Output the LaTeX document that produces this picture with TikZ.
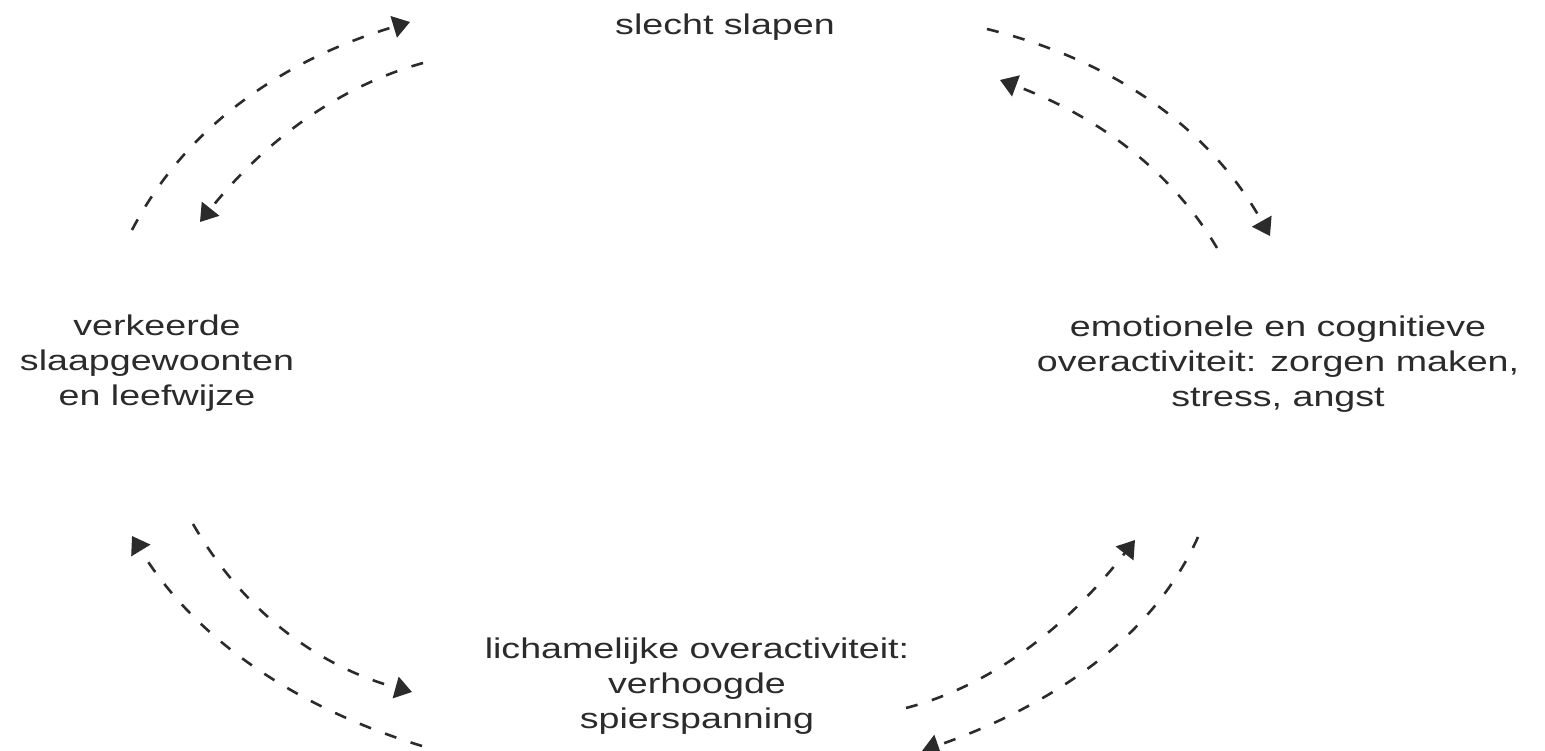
\documentclass[tikz,border=0pt]{standalone}
\usepackage{fontspec}
\setmainfont{Liberation Sans}[FakeStretch=1.32]
\usetikzlibrary{arrows.meta,calc}
\definecolor{ink}{HTML}{2B2B2B}
\begin{document}
\begin{tikzpicture}[x=1pt,y=-1pt,
  lbl/.style={inner sep=0pt,align=center,text=ink,font=\fontsize{28.5}{35}\selectfont,anchor=base},
  cyc/.style={draw=ink,line width=2.6pt,dash pattern=on 12pt off 15pt,-{Triangle[length=17pt,width=22pt]}}]
\useasboundingbox (0,0) rectangle (1545,751);
% text nodes (base anchor = baseline of the last line)
\node[lbl] (sleep) at (725,35) {slecht slapen};
\node[lbl] (habit) at (157,405) {verkeerde\\slaapgewoonten\\en leefwijze};
\node[lbl] (emo) at (1278,406) {emotionele en cognitieve\\overactiviteit: zorgen maken,\\stress, angst};
\node[lbl] (body) at (697,728) {lichamelijke overactiviteit:\\verhoogde\\spierspanning};
% free ends of the connectors and their (quadratic) control points
\coordinate (a1s) at (132,230);  \coordinate (a1e) at (410,22);  \coordinate (q1) at (209,82);
\coordinate (a2s) at (423,63);   \coordinate (a2e) at (200,222); \coordinate (q2) at (300,97);
\coordinate (a3s) at (987,29);   \coordinate (a3e) at (1270,236);\coordinate (q3) at (1181,77);
\coordinate (a4s) at (1217,248); \coordinate (a4e) at (1000,80); \coordinate (q4) at (1151,136);
\coordinate (a5s) at (422,746);  \coordinate (a5e) at (132,536); \coordinate (q5) at (223,685);
\coordinate (a6s) at (193,524);  \coordinate (a6e) at (412,692); \coordinate (q6) at (267,652);
\coordinate (a7s) at (906,708);  \coordinate (a7e) at (1135,540);\coordinate (q7) at (1029,676);
\coordinate (a8s) at (1198,537); \coordinate (a8e) at (922,751); \coordinate (q8) at (1136,676);
% connectors
\foreach \i in {1,...,8}{
  \draw[cyc] (a\i s) .. controls ($(a\i s)!0.6667!(q\i)$) and ($(a\i e)!0.6667!(q\i)$) .. (a\i e);
}
\end{tikzpicture}
\end{document}
